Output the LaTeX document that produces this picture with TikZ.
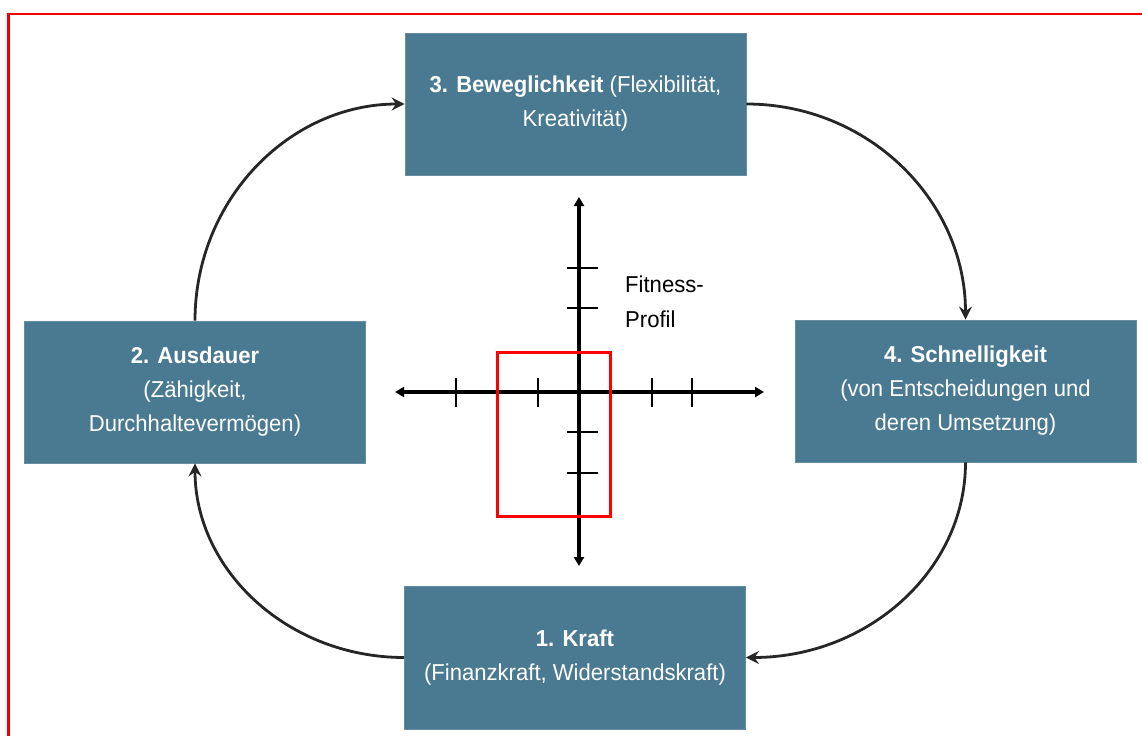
\documentclass[tikz,border=0pt]{standalone}
\usepackage{fontspec}
\setmainfont{Liberation Sans}[FakeStretch=0.96]
\usetikzlibrary{arrows.meta}
\definecolor{boxblue}{RGB}{74,122,146}
\definecolor{framered}{RGB}{240,0,0}
\tikzset{
  phase/.style={rectangle, fill=boxblue, draw=boxblue!85!white, line width=0.8pt,
    text=white, align=center, minimum width=341pt, minimum height=142pt,
    inner sep=0pt, font=\fontsize{23}{34}\selectfont},
  cycle/.style={line width=2.8pt, draw=black!85,
    -{Stealth[length=13pt,width=13pt,inset=4.5pt]}},
  axis/.style={line width=3.2pt, {Triangle[length=9pt,width=10pt]}-{Triangle[length=9pt,width=10pt]}},
  tick/.style={line width=2.8pt},
  zone/.style={draw=red, line width=3pt},
  label/.style={font=\fontsize{23}{35}\selectfont, align=left, anchor=north west, inner sep=0pt}
}
\begin{document}
\begin{tikzpicture}[x=1pt,y=-1pt]
  \useasboundingbox (0,0) rectangle (1142,736);
  \fill[white] (0,0) rectangle (1142,736);
  % outer frame (only the left and upper edges fall inside the page)
  \draw[framered, line width=2.4pt] (8.5,736) -- (8.5,14) -- (1142,14);

  % the four phases
  \node[phase] (b3) at (575.5,104) {\textbf{3. Beweglichkeit} (Flexibilität,\\Kreativität)};
  \node[phase] (b2) at (195,392) {\textbf{2. Ausdauer}\\(Zähigkeit,\\Durchhaltevermögen)};
  \node[phase] (b4) at (965.5,391) {\textbf{4. Schnelligkeit}\\(von Entscheidungen und\\deren Umsetzung)};
  \node[phase, minimum height=143pt] (b1) at (575,657.5) {\textbf{1. Kraft}\\(Finanzkraft, Widerstandskraft)};

  % cycle arrows
  \draw[cycle] (b2.north) .. controls +(0,-120) and +(-116,0) .. (b3.west);
  \draw[cycle] (b3.east) .. controls +(122,0) and +(0,-119) .. (b4.north);
  \draw[cycle] (b4.south) .. controls +(0,108) and +(122,0) .. (b1.east);
  \draw[cycle] (b1.west) .. controls +(-116,0) and +(0,107) .. (b2.south);

  % fitness profile axes
  \coordinate (xl) at (395,392);
  \coordinate (xr) at (764,392);
  \coordinate (yt) at (579,197);
  \coordinate (yb) at (579,566);
  \draw[axis] (xl) -- (xr);
  \draw[axis] (yt) -- (yb);
  \foreach \x in {456,538,652,692}
    \draw[tick] (\x,378) -- (\x,407);
  \foreach \y in {268,308,432,473}
    \draw[tick] (567,\y) -- (598,\y);
  \draw[zone] (497,352) rectangle (610,516);
  \node[label] (fp) at (625,276) {Fitness-\\Profil};
\end{tikzpicture}
\end{document}
